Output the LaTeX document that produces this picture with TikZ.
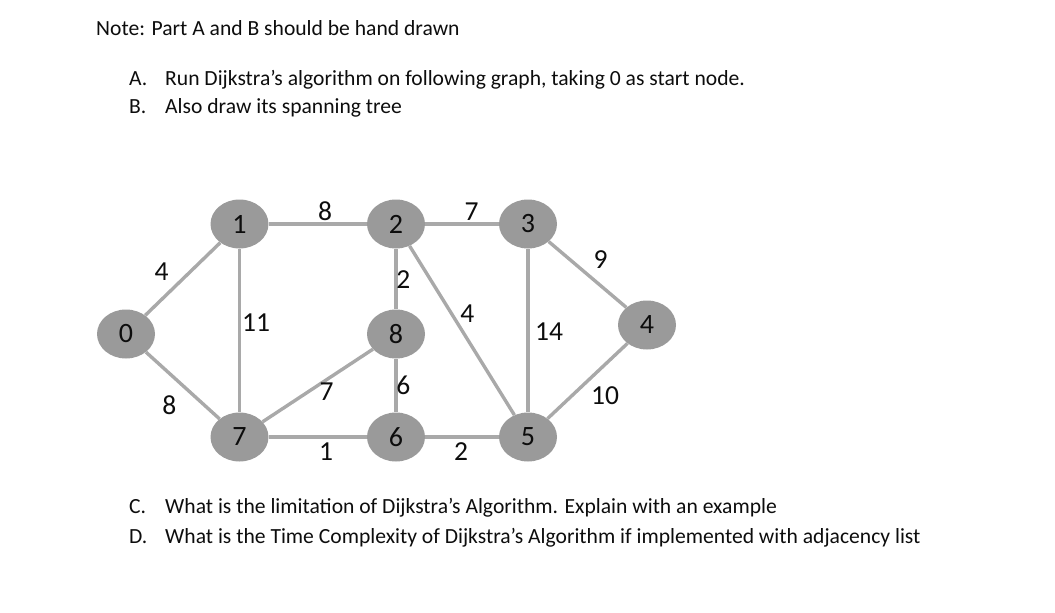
\documentclass[tikz,border=0pt]{standalone}
\usepackage{fontspec}
\setmainfont{Carlito}
\usetikzlibrary{shapes.geometric}
\definecolor{vgray}{HTML}{9A9A9A}
\definecolor{lgray}{HTML}{A9A9A9}
\definecolor{ink}{HTML}{0D0D0D}

\begin{document}
\begin{tikzpicture}[x=1pt, y=-1pt, text=ink,
  vtx/.style={ellipse, fill=vgray, minimum width=58pt, minimum height=49pt, inner sep=0pt, font=\fontsize{28}{30}\selectfont},
  wt/.style={inner sep=0pt, font=\fontsize{27.5}{28}\selectfont},
  txt/.style={anchor=base west, inner sep=0pt, font=\fontsize{21.6}{24}\selectfont},
  link/.style={draw=lgray, line width=3.4pt}
]
  \useasboundingbox (0,0) rectangle (1055,613);
  % questions
  \node[txt] (note) at (96,35) {Note: Part A and B should be hand drawn};
  \node[txt] (qa) at (129,85) {A.};
  \node[txt] (qatxt) at (165,85) {Run Dijkstra’s algorithm on following graph, taking 0 as start node.};
  \node[txt] (qb) at (129,113) {B.};
  \node[txt] (qbtxt) at (165,113) {Also draw its spanning tree};
  \node[txt] (qc) at (129,513) {C.};
  \node[txt] (qctxt) at (165,513) {What is the limitation of Dijkstra’s Algorithm. Explain with an example};
  \node[txt] (qd) at (129,543) {D.};
  \node[txt] (qdtxt) at (165,543) {What is the Time Complexity of Dijkstra’s Algorithm if implemented with adjacency list};
  % graph
  \foreach \n/\x/\y in {0/126/334, 1/239.5/224, 2/396/224, 3/528/224, 4/647/325,
                        5/528/437, 6/396/437, 7/239.5/437, 8/396/334}
    \node[vtx] (v\n) at (\x,\y) {\n};
  \foreach \a/\b in {0/1, 0/7, 1/2, 1/7, 2/3, 2/8, 2/5, 3/4, 3/5, 4/5, 7/8, 8/6, 7/6, 6/5}
    \draw[link] (v\a) -- (v\b);
  % weights
  \foreach \nm/\x/\y/\w in {w01/161.7/271.7/4, w07/169.3/405/8, w12/325/211.7/8, w17/256/323/11,
                            w23/471.7/211.7/7, w28/403.3/280/2, w25/467.3/313.3/4, w34/600.7/260/9,
                            w35/549/331.7/14, w45/605/396/10, w78/326.7/391.7/7, w86/403.3/385/6,
                            w76/326/451.7/1, w65/461/451.7/2}
    \node[wt] (\nm) at (\x,\y) {\w};
\end{tikzpicture}
\end{document}
